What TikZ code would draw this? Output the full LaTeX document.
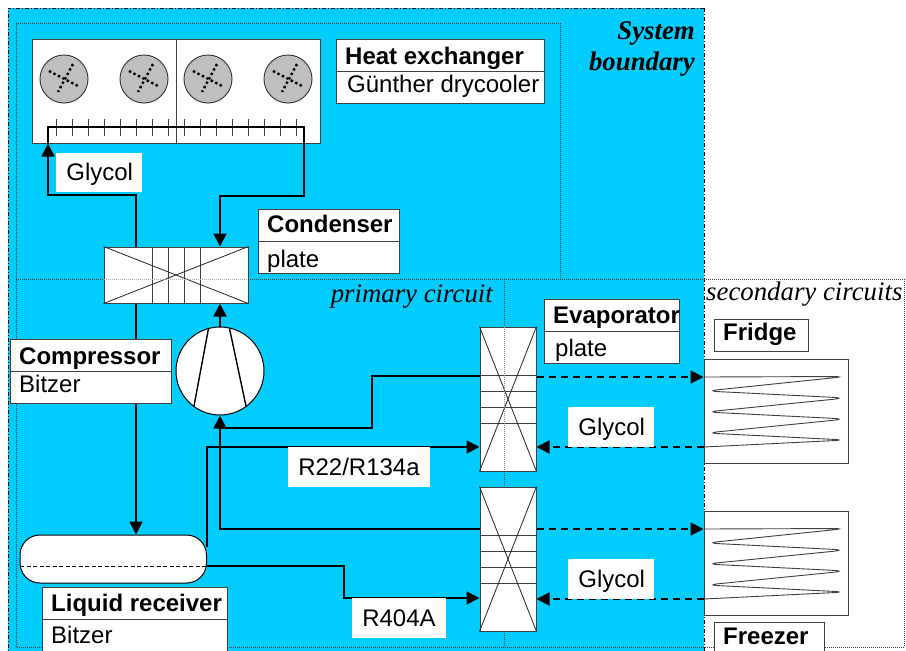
\documentclass[tikz,border=0pt]{standalone}
\usepackage{fontspec}
\setmainfont{Liberation Sans}
\newfontfamily\serifit{Liberation Serif}
\usetikzlibrary{arrows.meta,fit,calc}
\definecolor{sysblue}{HTML}{00CCFF}
\definecolor{edge}{HTML}{404040}
\tikzset{
  x=1pt,y=-1pt,
  pipe/.style={line width=1.8pt,black,line join=miter},
  flow/.style={pipe,-{Triangle[width=13pt,length=13pt]}},
  dflow/.style={flow,dash pattern=on 7pt off 5pt},
  boxedge/.style={draw=edge,line width=1pt},
  hxbox/.style={boxedge,fill=white,inner sep=0pt},
  thin line/.style={line width=0.8pt,black!85},
  labelbox/.style={boxedge,fill=white,inner sep=0pt},
  whitetag/.style={fill=white,inner sep=0pt},
  boldtxt/.style={anchor=base west,inner sep=0pt,font=\fontsize{24}{24}\selectfont\bfseries},
  plaintxt/.style={anchor=base west,inner sep=0pt,font=\fontsize{24}{24}\selectfont},
  tagtxt/.style={anchor=center,inner sep=0pt,font=\fontsize{24}{24}\selectfont},
  ittxt/.style={inner sep=0pt,font=\fontsize{26.8}{28}\serifit\itshape},
  bitxt/.style={inner sep=0pt,font=\fontsize{26.8}{28}\serifit\itshape\bfseries},
  bound/.style={line width=0.9pt,black!75,dash pattern=on 1pt off 1pt},
  outer/.style={line width=1pt,black,dash pattern=on 4pt off 2pt on 1pt off 2pt},
  fan/.style={circle,draw=edge,line width=1pt,fill=black!25,inner sep=0pt,minimum size=48pt},
  blade/.style={line width=2.4pt,black,dash pattern=on 2.4pt off 2.6pt},
  coil/.style={line width=0.9pt,edge,rounded corners=12pt},
}
\newcommand{\twolabel}[9]{%
  \node[labelbox,fit={(#2,#3)(#4,#6)}] (#1) {};
  \draw[boxedge] (#2,#5) -- (#4,#5);
  \node[boldtxt] at (#7) {#8};
  \node[plaintxt] at (#9) }
\newcommand{\hxbars}[5]{%
  \foreach \v in {#2,#3,#4,#5} {\draw[boxedge] (#1.west |- 0,\v) -- (#1.east |- 0,\v);}
  \draw[thin line] (#1.north west) -- (#1.south east);
  \draw[thin line] (#1.north east) -- (#1.south west);}
\begin{document}
\begin{tikzpicture}
\path[use as bounding box,clip] (0,0) rectangle (906,651);
\fill[white] (0,0) rectangle (906,651);
% regions
\fill[sysblue] (8,8) rectangle (704,651);
\draw[outer] (704,8) -- (8,8) -- (8,651);
\draw[outer] (704,8) -- (704,651);
\draw[bound] (16,279) -- (16,23) -- (560,23) -- (560,279);
\draw[bound] (16,279) -- (904,279) -- (904,647) -- (16,647) -- cycle;
\draw[bound] (504,279) -- (504,647);
% drycooler
\node[boxedge,fill=white,inner sep=0pt,fit={(32,39)(320,143)}] (dry) {};
\draw[boxedge] (176,39) -- (176,143);
\foreach \n/\cx in {a/64,b/144,c/208,d/288} {
  \node[fan] (fan\n) at (\cx,79) {};
  \draw[blade] (\cx-15,71) -- (\cx+14,86);
  \draw[blade] (\cx+9,64) -- (\cx-6,92);
}
\foreach \tx in {56,72,...,296} {\draw[line width=0.9pt,edge] (\tx,119) -- (\tx,136);}
% equipment
\node[hxbox,fit={(104,247)(248,303)}] (cond) {};
\foreach \v in {152,168,184,200} {\draw[boxedge] (\v,247) -- (\v,303);}
\draw[thin line] (cond.north west) -- (cond.south east);
\draw[thin line] (cond.north east) -- (cond.south west);
\node[circle,draw=black,line width=1pt,fill=white,inner sep=0pt,minimum size=88pt] (comp) at (220,371) {};
\draw[line width=1.4pt] (208.5,328.5) -- (194,406);
\draw[line width=1.4pt] (229.5,328.5) -- (246,406);
\node[hxbox,fit={(480,327)(536,471)}] (evap) {};
\hxbars{evap}{375}{391}{407}{423}
\node[hxbox,fit={(480,487)(536,631)}] (evapb) {};
\hxbars{evapb}{535}{551}{567}{583}
\node[draw=black,line width=1pt,fill=white,rounded corners=20pt,inner sep=0pt,fit={(20,535)(206.5,583)}] (recv) {};
\draw[line width=0.9pt,black,dash pattern=on 4pt off 2.5pt] (20,566) -- (207,566);
% fridge and freezer coils
\node[boxedge,fill=white,inner sep=0pt,fit={(704,359)(848,463)}] (fridge) {};
\node[boxedge,fill=white,inner sep=0pt,fit={(704,511)(848,615)}] (freezer) {};
\draw[coil] (704,377) -- (846,376.5) -- (706,391) -- (846,398) -- (706,412) -- (846,419) -- (706,433) -- (846,440) -- (704,447);
\draw[coil] (704,529) -- (846,528.5) -- (706,543) -- (846,550) -- (706,564) -- (846,571) -- (706,585) -- (846,592) -- (704,599);
% pipes
\coordinate (glL) at (48,195);
\coordinate (glR) at (304,196);
\draw[flow] (cond.north -| 136,0) -- (136,195) -- (glL) -- (dry.south -| glL);
\draw[pipe] (dry.south -| glL) -- (48,127) -- (304,127) -- (dry.south -| glR);
\draw[flow] (dry.south -| glR) -- (glR) -- (220,196) -- (cond.north -| 220,0);
\draw[flow] (comp.north) -- (cond.south -| comp.north);
\draw[flow] (cond.south -| 136,0) -- (recv.north -| 136,0);
\draw[flow] (evap.west |- 0,376) -- (372,376) -- (372,428) -- (220,428) -- (comp.south);
\draw[pipe] (evapb.west |- 0,529) -- (220,529) -- (220,428);
\draw[flow] (recv.east |- 0,547) |- (evap.west |- 0,447);
\draw[flow] (recv.east |- 0,566) -- (344,566) -- (344,598) -- (evapb.west |- 0,598);
\draw[dflow] (evap.east |- 0,377) -- (fridge.west |- 0,377);
\draw[dflow] (fridge.west |- 0,447) -- (evap.east |- 0,447);
\draw[dflow] (evapb.east |- 0,529) -- (freezer.west |- 0,529);
\draw[dflow] (freezer.west |- 0,599) -- (evapb.east |- 0,599);
% faint boundary seen through the equipment
\draw[line width=0.7pt,black!30,dash pattern=on 1pt off 1pt] (104,279) -- (248,279);
\draw[line width=0.7pt,black!45,dash pattern=on 1pt off 1pt] (504,327) -- (504,471);
% white tags
\node[whitetag,fit={(56,153)(142,192)},label={[tagtxt,yshift=-2pt,xshift=0.7pt]center:Glycol}] (tagA) {};
\node[whitetag,fit={(568,407)(654,447)},label={[tagtxt,yshift=-2pt,xshift=0.7pt]center:Glycol}] (tagB) {};
\node[whitetag,fit={(568,559)(654,599)},label={[tagtxt,yshift=-2pt,xshift=0.7pt]center:Glycol}] (tagC) {};
\node[whitetag,fit={(288,447)(430,487)},label={[tagtxt]center:R22/R134a}] (tagD) {};
\node[whitetag,fit={(352,598)(446,638)},label={[tagtxt]center:R404A}] (tagE) {};
% label boxes
\twolabel{lbHeat}{336}{39}{544}{71}{103}{345,64}{Heat exchanger}{347,92} {Günther drycooler};
\twolabel{lbCond}{258}{209}{399}{241}{273}{267,232}{Condenser}{267,267} {plate};
\twolabel{lbComp}{10}{339}{171}{371}{403}{19,364}{Compressor}{19,392} {Bitzer};
\twolabel{lbEvap}{544}{299}{679}{331}{363}{553,323}{Evaporator}{555,356} {plate};
\twolabel{lbRecv}{42}{587}{227}{619}{651}{51,611}{Liquid receiver}{51,643} {Bitzer};
\node[labelbox,fit={(714,319)(808,351)}] (lbFridge) {};
\node[boldtxt] at (723,340) {Fridge};
\node[labelbox,fit={(714,622)(824,652)}] (lbFreezer) {};
\node[boldtxt] at (723,644) {Freezer};
% region captions
\node[bitxt,anchor=base east] at (695,39) {System};
\node[bitxt,anchor=base east] at (695,70) {boundary};
\node[ittxt,anchor=base east] at (493,302) {primary circuit};
\node[ittxt,anchor=base west] at (706,300) {secondary circuits};
\end{tikzpicture}
\end{document}
